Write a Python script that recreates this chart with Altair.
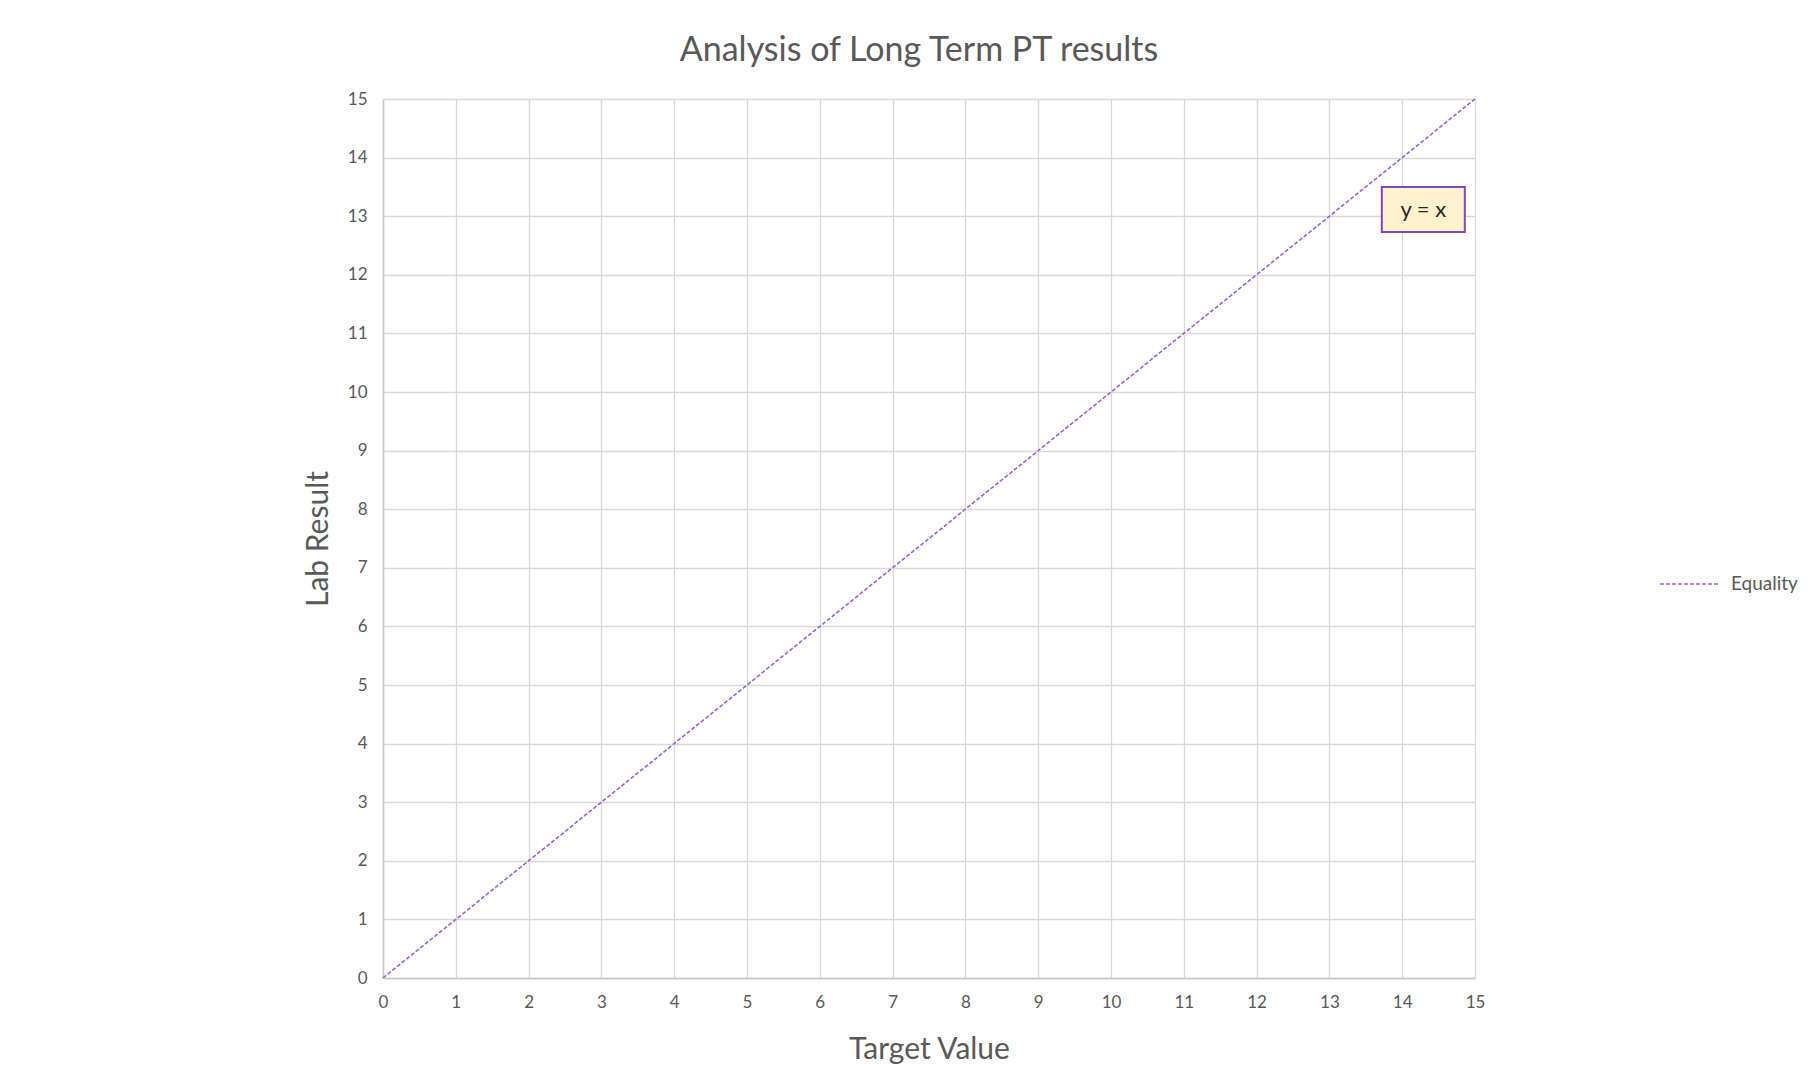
import altair as alt
import pandas as pd

# Data
line_x = [0, 15]
line_y = [0, 15]
series_name = ["Equality", "Equality"]

ticks = list(range(0, 16))

# annotation box (data coordinates) and label
box_x = [13.72]
box_x2 = [14.86]
box_y = [12.73]
box_y2 = [13.50]
box_text = ["y = x"]
box_text_x = [14.29]
box_text_y = [13.1]

FONT = "Lato"
GREY = "#595959"
PURPLE = "#9B63D1"

line_df = pd.DataFrame({"x": line_x, "y": line_y, "s": series_name})
box_df = pd.DataFrame({"x": box_x, "x2": box_x2, "y": box_y, "y2": box_y2,
                       "tx": box_text_x, "ty": box_text_y, "t": box_text})

xscale = alt.Scale(domain=[0, 15], nice=False, zero=True)
yscale = alt.Scale(domain=[0, 15], nice=False, zero=True)

x_axis = alt.Axis(title="Target Value", values=ticks, format="d", grid=True,
                  gridColor="#D9D9D9", gridWidth=1.3, domainColor="#C8C8C8", domainWidth=1.5,
                  ticks=False, labelPadding=16, labelFont=FONT, labelFontSize=17,
                  labelFlush=False, labelBound=False, labelOverlap=False,
                  labelColor=GREY, titleFont=FONT, titleFontSize=30, titleFontWeight="normal",
                  titleColor=GREY, titlePadding=24)
y_axis = alt.Axis(title="Lab Result", values=ticks, format="d", grid=True,
                  gridColor="#D9D9D9", gridWidth=1.3, domainColor="#C8C8C8", domainWidth=1.5,
                  ticks=False, labelPadding=16, labelFont=FONT, labelFontSize=17,
                  labelFlush=False, labelBound=False, labelOverlap=False,
                  labelColor=GREY, titleFont=FONT, titleFontSize=30, titleFontWeight="normal",
                  titleColor=GREY, titlePadding=14)

line = alt.Chart(line_df).mark_line(strokeDash=[4, 2], strokeWidth=1.6).encode(
    x=alt.X("x:Q", scale=xscale, axis=x_axis),
    y=alt.Y("y:Q", scale=yscale, axis=y_axis),
    color=alt.Color("s:N", scale=alt.Scale(domain=["Equality"], range=[PURPLE]),
                    legend=alt.Legend(title=None, orient="none", legendX=1276, legendY=455,
                                      symbolType="stroke", symbolSize=3364,
                                      symbolStrokeWidth=1.6, symbolDash=[4, 2],
                                      labelFont=FONT, labelFontSize=19, labelColor=GREY,
                                      labelOffset=12)),
)

rect = alt.Chart(box_df).mark_rect(fill="#FFF2CC", stroke="#8048BE", strokeWidth=2).encode(
    x=alt.X("x:Q", scale=xscale), x2="x2:Q",
    y=alt.Y("y:Q", scale=yscale), y2="y2:Q",
)

txt = alt.Chart(box_df).mark_text(font=FONT, fontSize=22, color="#262626",
                                  align="center", baseline="middle").encode(
    x=alt.X("tx:Q", scale=xscale),
    y=alt.Y("ty:Q", scale=yscale),
    text="t:N",
)

chart = alt.layer(line, rect, txt).properties(
    width=1092, height=879,
    title=alt.TitleParams("Analysis of Long Term PT results", font=FONT, fontSize=34,
                          fontWeight="normal", color=GREY, anchor="middle", offset=22, dx=-10),
    padding={"left": 383, "top": 99, "right": 334, "bottom": 113},
    autosize=alt.AutoSizeParams(type="none"),
).configure_view(stroke=None).configure(background="white")

chart.save("out.html", embed_options={"renderer": "svg", "actions": False})
